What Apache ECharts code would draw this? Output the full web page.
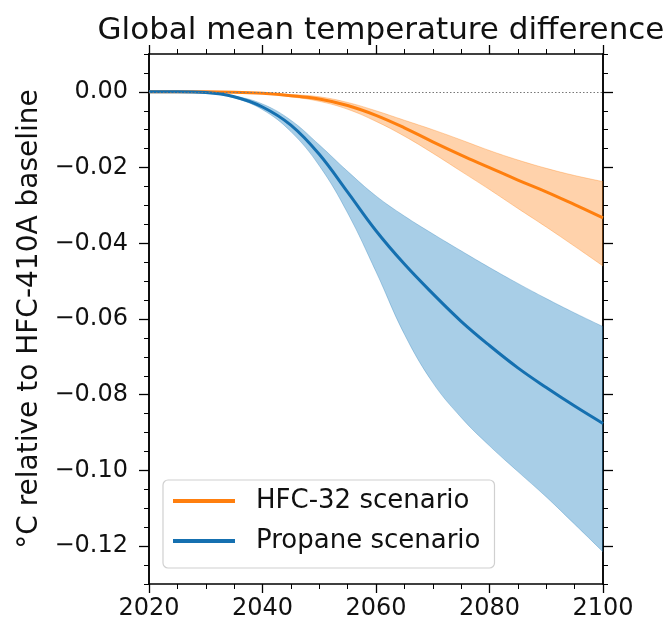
<!DOCTYPE html>
<html>
<head>
<meta charset="utf-8">
<script src="https://cdn.jsdelivr.net/npm/echarts@6/dist/echarts.min.js"></script>
<style>
  html, body { margin:0; padding:0; background:#fff; }
  #chart { width:670px; height:627px; }
</style>
</head>
<body>
<div id="chart"></div>
<script>
// years every 5
const years = [2020, 2025, 2030, 2035, 2040, 2045, 2050, 2055, 2060, 2065, 2070, 2075, 2080, 2085, 2090, 2095, 2100];

const hfcMid   = [0, 0, 0, -0.0001, -0.0004, -0.0010, -0.0019, -0.0036, -0.0062, -0.0095, -0.0132, -0.0167, -0.0200, -0.0233, -0.0264, -0.0298, -0.0333];
const hfcHigh  = [0, 0, 0, -0.0001, -0.0003, -0.0007, -0.0013, -0.0028, -0.0050, -0.0075, -0.0100, -0.0127, -0.0155, -0.0180, -0.0202, -0.0221, -0.0237];
const hfcLow   = [0, 0, 0, -0.0001, -0.0005, -0.0013, -0.0025, -0.0046, -0.0078, -0.0117, -0.0162, -0.0210, -0.0258, -0.0308, -0.0357, -0.0408, -0.0460];

const propMid  = [0, 0, -0.0002, -0.0013, -0.0040, -0.0088, -0.0165, -0.0265, -0.0367, -0.0455, -0.0533, -0.0606, -0.0670, -0.0729, -0.0781, -0.0830, -0.0876];
const propHigh = [0, 0, -0.0002, -0.0011, -0.0032, -0.0075, -0.0140, -0.0210, -0.0275, -0.0328, -0.0375, -0.0420, -0.0464, -0.0506, -0.0546, -0.0584, -0.0620];
const propLow  = [0, 0, -0.0003, -0.0016, -0.0047, -0.0105, -0.0195, -0.0320, -0.0475, -0.0640, -0.0768, -0.0860, -0.0935, -0.1003, -0.1070, -0.1142, -0.1215];

const yMajor = [0, -0.02, -0.04, -0.06, -0.08, -0.10, -0.12];

const FONT = 'DejaVu Sans';
const ORANGE = '#ff7f0e', BLUE = '#1570b0';
const SMOOTH = 0.4;

const pairs = (arr) => years.map((y, i) => [y, arr[i]]);
// value first so the stack runs on y (the first numeric dim)
const flipped = (arr) => years.map((y, i) => [arr[i], y]);
const fmt = (v) => Math.abs(v) < 1e-9 ? '0.00' : '\u2212' + Math.abs(v).toFixed(2);

const chart = echarts.init(document.getElementById('chart'));

const axisLine = { show: true, onZero: false, lineStyle: { color: '#000', width: 1.5 } };
const yBase = { type: 'value', min: -0.13, max: 0.01, splitLine: { show: false } };

function band(name, lo, hi, edge, fill) {
  const diff = hi.map((v, i) => v - lo[i]);
  const common = { type: 'line', stack: name, stackStrategy: 'all', dimensions: ['val', 'year'],
    encode: { x: 'year', y: 'val' }, smooth: SMOOTH, showSymbol: false, silent: true, z: 1,
    lineStyle: { width: 0.8, color: edge } };
  return [
    Object.assign({ name: name + ' lo', data: flipped(lo) }, common),
    Object.assign({ name: name + ' band', data: flipped(diff), areaStyle: { color: fill, opacity: 1 } }, common)
  ];
}

const xCommon = { type: 'value', min: 2020, max: 2100, interval: 20,
  axisLine, splitLine: { show: false },
  axisTick: { length: 9, lineStyle: { color: '#000', width: 1.3 } },
  minorTick: { show: true, splitNumber: 4, length: 5, lineStyle: { color: '#000', width: 1 } } };

chart.setOption({
  animation: false,
  backgroundColor: '#fff',
  title: {
    text: 'Global mean temperature difference',
    left: 376, textAlign: 'center', top: 10,
    textStyle: { fontFamily: FONT, fontSize: 31, fontWeight: 'normal', color: '#111' }
  },
  grid: { left: 149, right: 67, top: 54, bottom: 43, outerBoundsMode: 'none' },
  legend: {
    data: ['HFC-32 scenario', 'Propane scenario'],
    orient: 'vertical', left: 163, top: 480,
    padding: [7, 14, 13, 10],
    icon: 'rect', itemWidth: 62, itemHeight: 4, itemGap: 12,
    borderColor: '#d0d0d0', borderWidth: 1.2, borderRadius: 5,
    backgroundColor: 'rgba(255,255,255,0.85)',
    textStyle: { fontFamily: FONT, fontSize: 26, color: '#111', lineHeight: 28, padding: [0, 0, 0, 16] }
  },
  xAxis: [
    Object.assign({ position: 'bottom',
      axisLabel: { formatter: (v) => String(v), fontFamily: FONT, fontSize: 24, color: '#111', margin: 13 } }, xCommon),
    Object.assign({ position: 'top', axisLabel: { show: false } }, xCommon)
  ],
  yAxis: [
    // minor ticks every 0.005
    Object.assign({}, yBase, { position: 'left', interval: 0.005, axisLine,
      axisTick: { length: 5, lineStyle: { color: '#000', width: 1 } }, axisLabel: { show: false } }),
    // major ticks + labels
    Object.assign({}, yBase, { position: 'left', axisLine,
      name: '\u00b0C relative to HFC-410A baseline', nameLocation: 'middle', nameGap: 104,
      nameTextStyle: { fontFamily: FONT, fontSize: 28, color: '#111' },
      axisTick: { customValues: yMajor, length: 10, lineStyle: { color: '#000', width: 1.3 } },
      axisLabel: { customValues: yMajor, formatter: fmt, fontFamily: FONT, fontSize: 24, color: '#111', margin: 21 } }),
    Object.assign({}, yBase, { position: 'right', interval: 0.005, axisLine,
      axisTick: { length: 5, lineStyle: { color: '#000', width: 1 } }, axisLabel: { show: false } }),
    Object.assign({}, yBase, { position: 'right', axisLine,
      axisTick: { customValues: yMajor, length: 10, lineStyle: { color: '#000', width: 1.3 } },
      axisLabel: { show: false } })
  ],
  series: [
    ...band('prop', propLow, propHigh, 'rgba(21,112,176,0.35)', 'rgba(38,132,196,0.4)'),
    ...band('hfc', hfcLow, hfcHigh, 'rgba(255,127,14,0.4)', 'rgba(255,127,14,0.35)'),
    { name: 'HFC-32 scenario', type: 'line', data: pairs(hfcMid), smooth: SMOOTH, showSymbol: false, z: 3,
      itemStyle: { color: ORANGE }, lineStyle: { color: ORANGE, width: 3 },
      markLine: { silent: true, symbol: 'none', label: { show: false },
        lineStyle: { type: [1.5, 2], color: '#777', width: 1 }, data: [{ yAxis: 0 }] } },
    { name: 'Propane scenario', type: 'line', data: pairs(propMid), smooth: SMOOTH, showSymbol: false, z: 3,
      itemStyle: { color: BLUE }, lineStyle: { color: BLUE, width: 3 } }
  ]
});
</script>
</body>
</html>
